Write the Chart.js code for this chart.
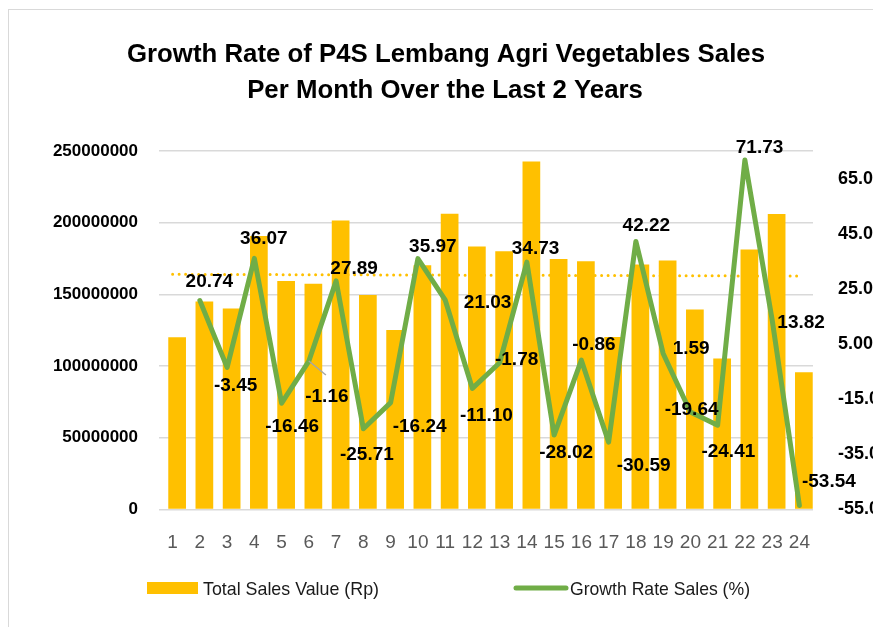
<!DOCTYPE html>
<html><head><meta charset="utf-8">
<script src="https://cdn.jsdelivr.net/npm/chart.js@4.4.1/dist/chart.umd.min.js"></script>
<style>
html,body{margin:0;padding:0;background:#fff;overflow:hidden;width:873px;height:627px;}
#frame{position:absolute;left:8px;top:9px;width:1000px;height:1000px;border:1.5px solid #d9d9d9;box-sizing:border-box;}
#wrap{position:absolute;left:0;top:0;width:900px;height:627px;}
</style></head><body>
<div id="frame"></div>
<div id="wrap"><canvas id="c" width="900" height="627"></canvas></div>
<script>
// ---- data ----
const months = ['1','2','3','4','5','6','7','8','9','10','11','12','13','14','15','16','17','18','19','20','21','22','23','24'];
const salesValues = [120200000, 145100000, 140100000, 190700000, 159300000, 157400000, 201500000, 149600000, 125200000, 170400000, 206200000, 183400000, 180100000, 242700000, 174600000, 173100000, 120300000, 170900000, 173600000, 139400000, 105300000, 181300000, 206100000, 95700000];
const growthValues = [null, 20.74, -3.45, 36.07, -16.46, -1.16, 27.89, -25.71, -16.24, 35.97, 21.03, -11.10, -1.78, 34.73, -28.02, -0.86, -30.59, 42.22, 1.59, -19.64, -24.41, 71.73, 13.82, -53.54];
const trendValues = [164000000, null, null, null, null, null, null, null, null, null, null, null, null, null, null, null, null, null, null, null, null, null, null, 162800000];
const salesTicks = [0, 50000000, 100000000, 150000000, 200000000, 250000000];
const growthTicks = [-55, -35, -15, 5, 25, 45, 65];
const titleLines = ['Growth Rate of P4S Lembang Agri Vegetables Sales', 'Per Month Over the Last 2 Years'];
const legendLabels = ['Total Sales Value (Rp)', 'Growth Rate Sales (%)'];

// ---- layout (pixel offsets of data labels relative to their points) ----
const labelOffsets = [null,[9.5,-20.5],[8.5,17],[9.5,-21],[10.5,22],[18,34],[18,-13.4],[3.5,24.5],[29,22.5],[15,-13],[42.5,1],[14,25.7],[17,-5],[8.7,-15.3],[12,15.8],[12.5,-17.3],[35,21.8],[10.5,-16.7],[28,-6.6],[1.2,-3.5],[10.7,25],[14.7,-14],[29,1.7],[29.5,-25.3]];
const BAR_SHIFT_PX = 4.5;

const BOLD = '"Liberation Sans", Arial, sans-serif';

const textPlugin = {
  id: 'texts',
  beforeDatasetDraw(chart, args) {
    if (args.index === 0) { chart.ctx.save(); chart.ctx.translate(BAR_SHIFT_PX, 0); }
  },
  afterDatasetDraw(chart, args) {
    if (args.index === 0) { chart.ctx.restore(); }
  },
  afterDatasetsDraw(chart) {
    const ctx = chart.ctx;
    const meta = chart.getDatasetMeta(1);
    ctx.save();
    const p6 = meta.data[5];
    ctx.strokeStyle = '#a6a6a6'; ctx.lineWidth = 1.5;
    ctx.beginPath(); ctx.moveTo(p6.x, p6.y); ctx.lineTo(p6.x + 17, p6.y + 14); ctx.stroke();
    ctx.fillStyle = '#000';
    ctx.font = 'bold 19px ' + BOLD;
    ctx.textAlign = 'center'; ctx.textBaseline = 'alphabetic';
    growthValues.forEach((v, i) => {
      if (v === null) return;
      const el = meta.data[i];
      const off = labelOffsets[i];
      ctx.fillText(v.toFixed(2), el.x + off[0], el.y + off[1] + 6.8);
    });
    ctx.restore();
  },
  afterDraw(chart) {
    const ctx = chart.ctx;
    ctx.save();
    ctx.fillStyle = '#000';
    ctx.font = 'bold 26px ' + BOLD;
    ctx.textBaseline = 'alphabetic';
    ctx.textAlign = 'center';
    const s = 638 / ctx.measureText(titleLines[0]).width;
    [[titleLines[0], 446, 61.7], [titleLines[1], 445, 98.3]].forEach(([t, x, y]) => {
      ctx.save(); ctx.translate(x, y); ctx.scale(s, 1); ctx.fillText(t, 0, 0); ctx.restore();
    });
    ctx.fillStyle = '#FFC000';
    ctx.fillRect(147, 582, 51, 12);
    ctx.strokeStyle = '#70AD47'; ctx.lineWidth = 5; ctx.lineCap = 'round';
    ctx.beginPath(); ctx.moveTo(516, 588); ctx.lineTo(566, 588); ctx.stroke();
    ctx.fillStyle = '#1a1a1a';
    ctx.font = '19px ' + BOLD;
    ctx.textAlign = 'left';
    [[legendLabels[0], 203, 176], [legendLabels[1], 570, 180]].forEach(([t, x, w]) => {
      const sc = w / ctx.measureText(t).width;
      ctx.save(); ctx.translate(x, 595); ctx.scale(sc, 1); ctx.fillText(t, 0, 0); ctx.restore();
    });
    ctx.restore();
  }
};

new Chart(document.getElementById('c'), {
  type: 'bar',
  data: {
    labels: months,
    datasets: [
      {
        type: 'bar', label: legendLabels[0],
        data: salesValues, xAxisID: 'x', yAxisID: 'y',
        backgroundColor: '#FFC000', borderWidth: 0,
        barPercentage: 0.65, categoryPercentage: 1, order: 3
      },
      {
        type: 'line', label: legendLabels[1],
        data: growthValues, xAxisID: 'x', yAxisID: 'y1',
        borderColor: '#70AD47', borderWidth: 5, pointRadius: 0, tension: 0,
        borderJoinStyle: 'round', borderCapStyle: 'round', fill: false, order: 1
      },
      {
        type: 'line', label: 'trend',
        data: trendValues, xAxisID: 'x', yAxisID: 'y', spanGaps: true,
        borderColor: '#FFC000', borderWidth: 3, borderDash: [0, 6.5], borderCapStyle: 'round',
        pointRadius: 0, fill: false, order: 2
      }
    ]
  },
  options: {
    responsive: false, animation: false, devicePixelRatio: 1,
    layout: { padding: { top: 151, left: 0, right: 0, bottom: 0 } },
    plugins: { legend: { display: false }, tooltip: { enabled: false }, title: { display: false } },
    scales: {
      x: {
        type: 'category', offset: true,
        grid: { display: false }, border: { display: false },
        ticks: { color: '#595959', font: { family: BOLD, size: 19 }, padding: 14, maxRotation: 0, autoSkip: false },
        afterFit(sc) { sc.height = 627 - 509.5; }
      },
      y: {
        position: 'left', min: 0, max: 250000000,
        afterBuildTicks(sc) { sc.ticks = salesTicks.map(v => ({ value: v })); },
        grid: { color: '#d9d9d9', lineWidth: 1.5, drawTicks: false },
        border: { display: false },
        ticks: { padding: 21, color: '#000', font: { family: BOLD, size: 17, weight: 'bold' }, callback: v => String(v) },
        afterFit(sc) { sc.width = 159; }
      },
      y1: {
        position: 'right', min: -55, max: 75,
        afterBuildTicks(sc) { sc.ticks = growthTicks.map(v => ({ value: v })); },
        grid: { display: false, drawOnChartArea: false },
        border: { display: false },
        ticks: { padding: 17, color: '#000', font: { family: BOLD, size: 18, weight: 'bold' }, callback: v => Number(v).toFixed(2) },
        afterFit(sc) { sc.width = 87; }
      }
    }
  },
  plugins: [textPlugin]
});
</script>
</body></html>
